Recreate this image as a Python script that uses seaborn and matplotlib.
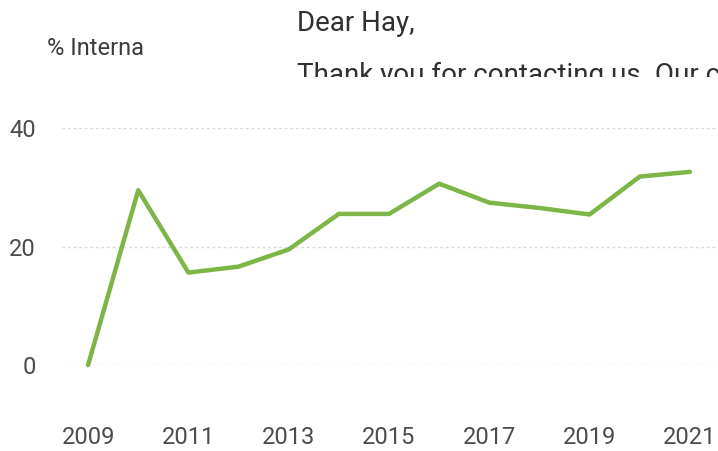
import matplotlib
matplotlib.use("Agg")
import matplotlib.pyplot as plt
from matplotlib.transforms import Bbox, TransformedBbox
import seaborn as sns
import pandas as pd

years = [2009, 2010, 2011, 2012, 2013, 2014, 2015, 2016, 2017, 2018, 2019, 2020, 2021]
share = [0.0, 29.5, 15.6, 16.6, 19.5, 25.5, 25.5, 30.6, 27.4, 26.5, 25.4, 31.8, 32.6]
x_ticks = [2009, 2011, 2013, 2015, 2017, 2019, 2021]
y_ticks = [0, 20, 40]

sns.set_theme(style="white")
plt.rcParams["font.family"] = ["Roboto", "DejaVu Sans"]

W, H = 718, 451
fig = plt.figure(figsize=(W / 100, H / 100), dpi=100)
fig.patch.set_facecolor("white")
ax = fig.add_axes([62 / W, (H - 365) / H, (W - 62) / W, 237 / H])

df = pd.DataFrame({"year": years, "share": share})
sns.lineplot(data=df, x="year", y="share", ax=ax, color="#7db547",
             linewidth=3.2, clip_on=False)

ax.set_xlim(2008.48, 2021.56)
ax.set_ylim(0, 40)
ax.set_xticks(x_ticks)
ax.set_xticklabels([str(t) for t in x_ticks])
ax.set_yticks(y_ticks)
ax.set_yticklabels([str(t) for t in y_ticks])
ax.set_xlabel("")
ax.set_ylabel("")
for s in ax.spines.values():
    s.set_visible(False)
ax.grid(axis="y", color="#dadada", linestyle=(0, (2, 2)), linewidth=1.0)
ax.grid(axis="x", visible=False)
ax.set_axisbelow(True)
ax.tick_params(axis="x", length=0, pad=44, labelsize=17, labelcolor="#4c4c4c")
ax.tick_params(axis="y", length=0, pad=19, labelsize=17, labelcolor="#4c4c4c")

fig.text(47 / W, 1 - 55 / H, "% Interna", fontsize=17, color="#3c3c3c",
         va="baseline", ha="left")
fig.text(297 / W, 1 - 31 / H, "Dear Hay,", fontsize=20, color="#303030",
         va="baseline", ha="left")
# second line of the message, cut off at its lower edge
body = fig.text(297 / W, 1 - 83 / H, "Thank you for contacting us. Our company",
                fontsize=20, color="#303030", va="baseline", ha="left")
body.set_clip_on(True)
body.set_clip_box(TransformedBbox(Bbox([[0, 1 - 77 / H], [1, 1]]), fig.transFigure))

fig.savefig("out.png", dpi=100, facecolor="white")
